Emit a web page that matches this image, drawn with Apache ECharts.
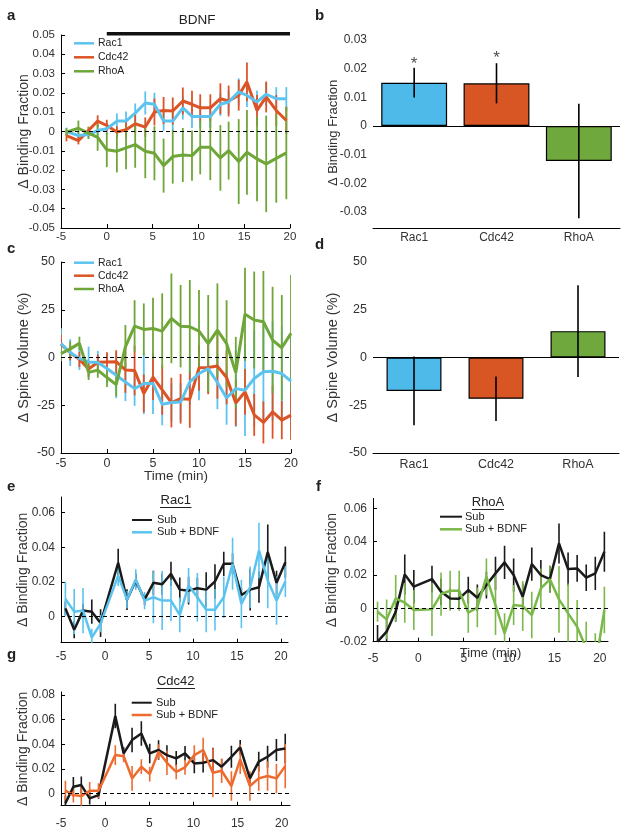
<!DOCTYPE html>
<html><head><meta charset="utf-8">
<script src="https://cdn.jsdelivr.net/npm/echarts@6/dist/echarts.min.js"></script>
<style>html,body{margin:0;padding:0;background:#fff}#c{width:629px;height:836px}</style>
</head><body><div id="c"></div>
<script>
// ---------- Panel a: binding fraction, time course ----------
const aTime = [-4.4,-3.1,-2.0,-1.0,0.0,1.1,2.1,3.1,4.2,5.2,6.2,7.2,8.3,9.3,10.2,11.3,12.4,13.3,14.4,15.3,16.4,17.4,18.5,19.6];
const aRac1 = [0.0,-0.0021,-0.0016,0.0005,0.0014,0.0054,0.0054,0.0095,0.0148,0.0141,0.0054,0.0054,0.0122,0.0078,0.0078,0.0078,0.0141,0.0153,0.0205,0.0187,0.0153,0.0193,0.0170,0.0170];
const aRac1Err = [0.002,0.002,0.002,0.003,0.003,0.004,0.005,0.005,0.006,0.006,0.005,0.005,0.006,0.006,0.006,0.006,0.006,0.006,0.007,0.006,0.006,0.006,0.006,0.006];
const aCdc42 = [-0.0021,-0.0047,0.0005,0.0054,0.0031,-0.0003,0.0009,0.0040,0.0023,0.0101,0.0109,0.0106,0.0158,0.0141,0.0123,0.0123,0.0170,0.0158,0.0188,0.0257,0.0109,0.0179,0.0109,0.0057];
const aCdc42Err = [0.003,0.002,0.002,0.003,0.003,0.003,0.004,0.005,0.005,0.007,0.007,0.007,0.007,0.007,0.007,0.007,0.008,0.008,0.008,0.010,0.008,0.008,0.008,0.007];
const aRhoA = [-0.0003,0.0017,-0.0009,-0.0030,-0.0095,-0.0102,-0.0085,-0.0068,-0.0102,-0.0113,-0.0177,-0.0130,-0.0122,-0.0125,-0.0082,-0.0082,-0.0137,-0.0099,-0.0156,-0.0108,-0.0142,-0.0168,-0.0139,-0.0111];
const aRhoAErr = [0.002,0.004,0.003,0.007,0.009,0.011,0.011,0.012,0.014,0.014,0.014,0.014,0.014,0.013,0.014,0.017,0.017,0.015,0.022,0.022,0.022,0.025,0.023,0.024];
const bdnfSpan = [0, 20];
const bdnfLevel = 0.0506;

// ---------- Panel b: mean binding fraction ----------
const bCats = ['Rac1','Cdc42','RhoA'];
const bMean = [0.0151, 0.0149, -0.0122];
const bErr = [0.0052, 0.0070, 0.0200];
const bStarLevel = [0.0215, 0.0236];
const bTicks = [-0.03,-0.02,-0.01,0,0.01,0.02,0.03];

// ---------- Panel c: spine volume, time course ----------
const cTime = [-5,-4,-3,-2,-1,0,1,2,3,4,5,6,7,8,9,10,11,12,13,14,15,16,17,18,19,20];
const cRac1 = [7.3,2.6,-0.5,-2.3,-2.6,-5.8,-9.3,-12.8,-16.3,-13.6,-13.6,-24.5,-23.6,-23.3,-12.8,-8.4,-5.8,-13.1,-21.2,-16.3,-17.1,-11,-7.5,-7.2,-8.4,-12.4];
const cRac1Err = [8,7,6,8,6,8,12,10,9,16,16,11,10,10,12,14,13,14,14,20,24,25,25,26,25,25];
const cCdc42 = [7,2.5,-1,-6,-2.5,-2.3,-2.2,-6.5,-6.8,-18.8,-10.3,-17,-23.6,-21.6,-21.8,-5.4,-5.2,-4.5,-10.5,-23.8,-18,-30,-34,-28.5,-32.8,-30.2];
const cCdc42Err = [5,4,4,4,4,5,6,12,13,10,12,13,13,13,15,12,14,17,14,12,12,11,11,14,10,13];
const cRhoA = [2,4.5,7.4,-7.8,-6.6,-10.5,-14.2,5.6,16.4,14.7,15.2,13.8,20.5,16.4,16.1,13.8,7.3,14.3,7.3,-7.9,22.6,19.6,18.7,9.1,5.1,12.6];
const cRhoAErr = [4,4,3.5,4,4,5,6,11.4,13.6,13.6,16.1,19.8,23.5,21.6,24.5,21.5,25.4,24.5,22.7,18.7,24.4,25.4,26.6,27.9,27.6,30.6];

// ---------- Panel d: mean spine volume ----------
const dCats = ['Rac1','Cdc42','RhoA'];
const dMean = [-17.5, -21.6, 13.8];
const dErr = [18, 11.6, 24];

// ---------- Panel e: Rac1 ----------
const eTime = [-4.5,-3.5,-2.5,-1.5,-0.5,1.5,2.5,3.5,4.5,5.5,6.5,7.5,8.5,9.5,10.5,11.5,12.5,13.5,14.5,15.5,16.5,17.5,18.5,19.5,20.5];
const eSub = [0.0048,-0.0075,0.0035,0.0029,-0.0037,0.0311,0.0098,0.0208,0.0098,0.0195,0.0187,0.0247,0.0156,0.015,0.0164,0.0156,0.0203,0.0305,0.0305,0.0125,0.0156,0.017,0.0372,0.0195,0.0314];
const eSubErr = [0.004,0.005,0.004,0.007,0.008,0.008,0.006,0.004,0.003,0.007,0.006,0.007,0.007,0.008,0.006,0.01,0.01,0.007,0.006,0.004,0.012,0.009,0.016,0.007,0.009];
const eBdnf = [0.0102,0.0029,0.0035,-0.0120,-0.004,0.0237,0.0098,0.0214,0.0093,0.0112,0.0093,0.0093,0.001,0.018,0.0112,0.004,0.004,0.0112,0.0305,0.0073,0.0170,0.0382,0.0208,0.0093,0.0203];
const eBdnfErr = [0.01,0.013,0.013,0.005,0.005,0.006,0.005,0.006,0.005,0.015,0.017,0.012,0.01,0.01,0.014,0.013,0.012,0.012,0.015,0.014,0.012,0.016,0.016,0.014,0.009];

// ---------- Panel f: RhoA ----------
const fTime = [-4.5,-3.5,-2.5,-1.5,-0.5,1.5,2.5,3.5,4.5,5.5,6.5,7.5,8.5,9.5,10.5,11.5,12.5,13.5,14.5,15.5,16.5,17.5,18.5,19.5,20.5];
const fSub = [-0.020,-0.014,-0.002,0.0204,0.013,0.0176,0.0100,0.006,0.0058,0.011,0.0064,0.014,0.021,0.0276,0.020,0.007,0.0266,0.020,0.0176,0.039,0.0236,0.024,0.0184,0.021,0.034];
const fSubErr = [0.01,0.008,0.006,0.012,0.01,0.008,0.008,0.006,0.006,0.008,0.008,0.008,0.01,0.01,0.01,0.008,0.01,0.009,0.008,0.012,0.01,0.008,0.008,0.01,0.012];
const fBdnf = [-0.002,-0.0066,0.006,0.0034,-0.001,-0.0006,0.0086,0.0106,0.0106,-0.0026,0.0006,0.019,0.002,-0.015,0.002,0.0014,-0.004,0.012,0.0174,0.0054,-0.003,-0.011,-0.024,-0.035,-0.001];
const fBdnfErr = [0.006,0.012,0.014,0.012,0.012,0.016,0.013,0.012,0.012,0.012,0.012,0.011,0.018,0.012,0.012,0.015,0.014,0.012,0.008,0.02,0.018,0.016,0.016,0.02,0.014];

// ---------- Panel g: Cdc42 ----------
const gTime = [-4.5,-3.6,-2.7,-1.75,-0.75,1.15,2.1,3.05,4.1,5.05,6.05,7.0,8.05,9.05,10.1,11.1,12.2,13.2,14.3,15.3,16.4,17.4,18.4,19.4,20.4];
const gSub = [-0.008,0.0054,0.0068,-0.0041,-0.0014,0.063,0.0325,0.0434,0.0488,0.0325,0.0353,0.0312,0.0285,0.0325,0.0244,0.025,0.0271,0.0217,0.0298,0.0374,0.0122,0.0258,0.0298,0.0353,0.0366];
const gSubErr = [0.006,0.008,0.007,0.005,0.003,0.01,0.005,0.01,0.01,0.008,0.008,0.008,0.006,0.006,0.008,0.008,0.01,0.006,0.009,0.006,0.004,0.008,0.009,0.009,0.012];
const gBdnf = [0.0022,-0.0014,-0.0022,0.0022,0.0022,0.0312,0.0303,0.0122,0.0217,0.0157,0.0339,0.0249,0.0176,0.0212,0.0312,0.0353,0.0168,0.0184,0.006,0.0277,0.006,0.0122,0.0141,0.0122,0.0222];
const gBdnfErr = [0.008,0.006,0.008,0.007,0.006,0.008,0.005,0.01,0.006,0.006,0.006,0.01,0.006,0.006,0.008,0.01,0.02,0.01,0.012,0.012,0.012,0.01,0.012,0.012,0.018];

// ---------- tick labels ----------
const timeTicks = [-5,0,5,10,15,20];
const eTicks = [0,0.02,0.04,0.06];
const fTicks = [-0.02,0,0.02,0.04,0.06];
const gTicks = [0,0.02,0.04,0.06,0.08];

// ---------- styling ----------
const FF = 'Arial, "Liberation Sans", Helvetica, sans-serif';
const BLUE = '#5cc3ef', ORANGE = '#dc5426', GREEN = '#6ea638', BLACK = '#1a1a1a';
const BLUE_BAR = '#4dbaea', ORANGE_BAR = '#d85524', GREEN_BAR = '#6fa83d';
const GREEN_F = '#7ab84a', ORANGE_G = '#ee6a2e';

const chart = echarts.init(document.getElementById('c'), null, {renderer: 'canvas'});

function grid(l, t, w, h) { return {left: l, top: t, width: w, height: h, containLabel: false, outerBoundsMode: 'none'}; }
function valAxis(gi, min, max, ticks, fs, margin, extra) {
  const ax = {
    type: 'value', gridIndex: gi, min: min, max: max, nameMoveOverlap: false,
    axisLine: {onZero: false, lineStyle: {color: '#000', width: 1}},
    axisTick: {inside: true, length: 4, lineStyle: {color: '#000'}},
    axisLabel: {fontSize: fs, color: '#333', margin: margin, fontFamily: FF},
    splitLine: {show: false}
  };
  if (Array.isArray(ticks)) { ax.axisTick.customValues = ticks; ax.axisLabel.customValues = ticks; }
  else { ax.interval = ticks; }
  return Object.assign(ax, extra || {});
}
function yName(name, gap, fs) {
  return {name: name, nameLocation: 'middle', nameGap: gap, nameMoveOverlap: false, nameTextStyle: {fontSize: fs, color: '#333', fontFamily: FF}};
}
function pairs(xs, ys) { return xs.map((x, i) => [x, ys[i]]); }
function lineS(gi, xs, ys, color, w, z, zeroLine) {
  const s = {type: 'line', xAxisIndex: gi, yAxisIndex: gi, data: pairs(xs, ys), symbol: 'none',
    lineStyle: {color: color, width: w}, itemStyle: {color: color}, z: z, clip: true, silent: true};
  if (zeroLine) s.markLine = {silent: true, symbol: 'none', label: {show: false}, animation: false,
    lineStyle: {type: [4, 3], color: '#000', width: 1.2}, data: [{yAxis: 0}]};
  return s;
}
function errS(gi, xs, ys, es, color, w, z) {
  return {type: 'custom', xAxisIndex: gi, yAxisIndex: gi, z: z, clip: true, silent: true,
    data: xs.map((x, i) => [x, ys[i] - es[i], ys[i] + es[i]]),
    encode: {x: 0, y: [1, 2]},
    renderItem: function (params, api) {
      const p1 = api.coord([api.value(0), api.value(1)]);
      const p2 = api.coord([api.value(0), api.value(2)]);
      return {type: 'line', shape: {x1: p1[0], y1: p1[1], x2: p2[0], y2: p2[1]}, style: {stroke: color, lineWidth: w}};
    }};
}
function barS(gi, vals, colors, width) {
  return {type: 'bar', xAxisIndex: gi, yAxisIndex: gi, barWidth: width, z: 2, silent: true,
    data: vals.map((v, i) => ({value: v, itemStyle: {color: colors[i], borderColor: '#000', borderWidth: 1.2}})),
    markLine: {silent: true, symbol: 'none', label: {show: false}, animation: false,
      lineStyle: {type: 'solid', color: '#000', width: 1.2}, data: [{yAxis: 0}]}};
}
function barErrS(gi, vals, errs) {
  return {type: 'custom', xAxisIndex: gi, yAxisIndex: gi, z: 4, silent: true,
    data: vals.map((v, i) => [i, v - errs[i], v + errs[i]]),
    encode: {x: 0, y: [1, 2]},
    renderItem: function (params, api) {
      const p1 = api.coord([api.value(0), api.value(1)]);
      const p2 = api.coord([api.value(0), api.value(2)]);
      return {type: 'line', shape: {x1: p1[0], y1: p1[1], x2: p2[0], y2: p2[1]}, style: {stroke: '#000', lineWidth: 1.6}};
    }};
}
function txt(x, y, s, size, opts) {
  opts = opts || {};
  return {type: 'text', silent: true, z: 100, style: {x: x, y: y, text: s, fill: opts.fill || '#222',
    font: (opts.bold ? 'bold ' : '') + size + 'px ' + FF,
    textAlign: opts.align || 'left', align: opts.align || 'left', textVerticalAlign: 'middle', verticalAlign: 'middle'}};
}
function seg(x1, y1, x2, y2, color, w) {
  return {type: 'line', silent: true, z: 100, shape: {x1: x1, y1: y1, x2: x2, y2: y2}, style: {stroke: color, lineWidth: w}};
}
function legend(x1, x2, tx, y, color, label, fs, lw) {
  return [seg(x1, y, x2, y, color, lw), txt(tx, y, label, fs)];
}

const option = {
  animation: false,
  backgroundColor: '#fff',
  grid: [
    grid(61, 35, 229, 193),     // a
    grid(373, 38, 247, 190),    // b
    grid(61, 262, 230, 191),    // c
    grid(373, 262, 246, 191),   // d
    grid(61, 497, 227, 145.7),  // e
    grid(373, 498.4, 235, 143.3), // f
    grid(61, 692, 229, 113.7)   // g
  ],
  xAxis: [
    valAxis(0, -5, 20, 5, 11.5, 3),
    {type: 'category', gridIndex: 1, data: bCats, axisLine: {onZero: false, lineStyle: {color: '#000'}}, axisTick: {show: false},
      axisLabel: {fontSize: 12, color: '#333', margin: 4, fontFamily: FF}},
    valAxis(2, -5, 20, 5, 12.5, 4, {name: 'Time (min)', nameLocation: 'middle', nameGap: 16, nameTextStyle: {fontSize: 13.5, color: '#333', fontFamily: FF}}),
    {type: 'category', gridIndex: 3, data: dCats, axisLine: {onZero: false, lineStyle: {color: '#000'}}, axisTick: {show: false},
      axisLabel: {fontSize: 12.5, color: '#333', margin: 5, fontFamily: FF}},
    valAxis(4, -5, 20.8, timeTicks, 12, 8),
    valAxis(5, -5, 20.9, timeTicks, 12, 11, {name: 'Time (min)', nameLocation: 'middle', nameGap: 5, nameTextStyle: {fontSize: 13, color: '#333', fontFamily: FF}}),
    valAxis(6, -5, 20.94, timeTicks, 12, 12)
  ],
  yAxis: [
    valAxis(0, -0.05, 0.05, 0.01, 11.5, 6, yName('\u0394 Binding Fraction', 30, 14)),
    valAxis(1, -0.0356, 0.0307, bTicks, 12, 6, yName('\u0394 Binding Fraction', 33, 13)),
    valAxis(2, -50, 50, 25, 12.5, 6, yName('\u0394 Spine Volume (%)', 30, 14.5)),
    valAxis(3, -50, 50, 25, 12.5, 6, yName('\u0394 Spine Volume (%)', 33, 14.5)),
    valAxis(4, -0.015, 0.069, eTicks, 12, 6, yName('\u0394 Binding Fraction', 31, 14)),
    valAxis(5, -0.02, 0.066, fTicks, 12, 6, yName('\u0394 Binding Fraction', 34, 14)),
    valAxis(6, -0.01, 0.0825, gTicks, 12, 6, yName('\u0394 Binding Fraction', 31, 14))
  ],
  series: [
    // a
    errS(0, aTime, aRac1, aRac1Err, BLUE, 1.8, 2),
    errS(0, aTime, aCdc42, aCdc42Err, ORANGE, 1.8, 2),
    errS(0, aTime, aRhoA, aRhoAErr, GREEN, 1.8, 2),
    lineS(0, aTime, aCdc42, ORANGE, 3, 3, true),
    lineS(0, aTime, aRac1, BLUE, 3, 3),
    lineS(0, aTime, aRhoA, GREEN, 3, 3),
    {type: 'line', xAxisIndex: 0, yAxisIndex: 0, data: bdnfSpan.map(t => [t, bdnfLevel]), symbol: 'none', clip: false, silent: true,
      lineStyle: {color: '#111', width: 3.5}, z: 5},
    // b
    barS(1, bMean, [BLUE_BAR, ORANGE_BAR, GREEN_BAR], '80%'),
    barErrS(1, bMean, bErr),
    {type: 'scatter', xAxisIndex: 1, yAxisIndex: 1, symbolSize: 1, itemStyle: {color: 'rgba(0,0,0,0)'}, silent: true, z: 6,
      data: bStarLevel.map((v, i) => [i, v]),
      label: {show: true, position: 'inside', formatter: '*', fontSize: 17, color: '#222', fontFamily: FF}},
    // c
    errS(2, cTime, cRac1, cRac1Err, BLUE, 1.8, 2),
    errS(2, cTime, cCdc42, cCdc42Err, ORANGE, 1.8, 2),
    errS(2, cTime, cRhoA, cRhoAErr, GREEN, 1.8, 2),
    lineS(2, cTime, cCdc42, ORANGE, 3, 3, true),
    lineS(2, cTime, cRac1, BLUE, 3, 3),
    lineS(2, cTime, cRhoA, GREEN, 3, 3),
    // d
    barS(3, dMean, [BLUE_BAR, ORANGE_BAR, GREEN_BAR], '67%'),
    barErrS(3, dMean, dErr),
    // e
    errS(4, eTime, eSub, eSubErr, BLACK, 1.6, 2),
    errS(4, eTime, eBdnf, eBdnfErr, BLUE, 1.6, 2),
    lineS(4, eTime, eSub, BLACK, 2.5, 3, true),
    lineS(4, eTime, eBdnf, BLUE, 2.5, 3),
    // f
    errS(5, fTime, fSub, fSubErr, BLACK, 1.6, 2),
    errS(5, fTime, fBdnf, fBdnfErr, GREEN_F, 1.6, 2),
    lineS(5, fTime, fSub, BLACK, 2.5, 3, true),
    lineS(5, fTime, fBdnf, GREEN_F, 2.5, 3),
    // g
    errS(6, gTime, gSub, gSubErr, BLACK, 1.6, 2),
    errS(6, gTime, gBdnf, gBdnfErr, ORANGE_G, 1.6, 2),
    lineS(6, gTime, gSub, BLACK, 2.5, 3, true),
    lineS(6, gTime, gBdnf, ORANGE_G, 2.5, 3)
  ],
  graphic: [].concat(
    txt(7, 16, 'a', 15, {bold: true}),
    txt(315, 16, 'b', 15, {bold: true}),
    txt(7, 249, 'c', 15, {bold: true}),
    txt(315, 245, 'd', 15, {bold: true}),
    txt(7, 487, 'e', 15, {bold: true}),
    txt(316, 487, 'f', 15, {bold: true}),
    txt(7, 655, 'g', 15, {bold: true}),
    txt(197, 20, 'BDNF', 13.5, {align: 'center'}),
    legend(74, 94, 98, 43.3, BLUE, 'Rac1', 10.5, 2.5),
    legend(74, 94, 98, 57.3, ORANGE, 'Cdc42', 10.5, 2.5),
    legend(74, 94, 98, 71.3, GREEN, 'RhoA', 10.5, 2.5),
    legend(74, 94, 98, 262.7, BLUE, 'Rac1', 10.5, 2.5),
    legend(74, 94, 98, 275.7, ORANGE, 'Cdc42', 10.5, 2.5),
    legend(74, 94, 98, 289, GREEN, 'RhoA', 10.5, 2.5),
    txt(175.7, 500.7, 'Rac1', 13, {align: 'center'}), seg(160, 507.5, 191.5, 507.5, '#222', 1),
    legend(132, 152, 157, 520, BLACK, 'Sub', 11, 2),
    legend(132, 152, 157, 532.3, BLUE, 'Sub + BDNF', 11, 2.5),
    txt(488, 502.7, 'RhoA', 13, {align: 'center'}), seg(472, 509.5, 504, 509.5, '#222', 1),
    legend(440, 462, 465, 516.7, BLACK, 'Sub', 11, 2),
    legend(440, 462, 465, 529.3, GREEN_F, 'Sub + BDNF', 11, 2.5),
    txt(175.7, 681.7, 'Cdc42', 13, {align: 'center'}), seg(156.5, 688.5, 195, 688.5, '#222', 1),
    legend(131.7, 151.7, 156, 702.7, BLACK, 'Sub', 11, 2),
    legend(131.7, 151.7, 156, 715, ORANGE_G, 'Sub + BDNF', 11, 2.5)
  )
};
chart.setOption(option);
</script></body></html>
